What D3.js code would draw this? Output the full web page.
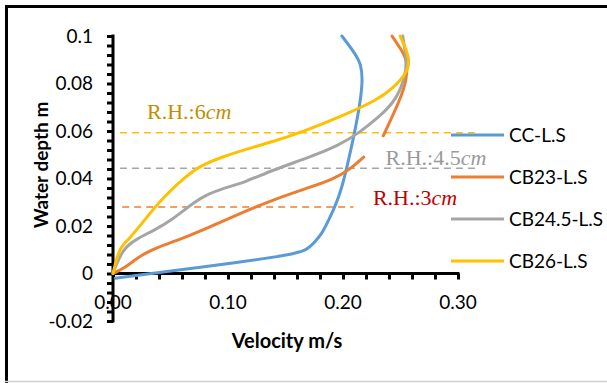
<!DOCTYPE html>
<html><head><meta charset="utf-8">
<script src="https://cdn.jsdelivr.net/npm/d3@7"></script>
<style>html,body{margin:0;padding:0;background:#fff;}svg{display:block;}</style>
</head><body>
<svg id="c" width="607" height="383"></svg>
<script>
// ---- data ----
const seriesNames = ["CC-L.S", "CB23-L.S", "CB24.5-L.S", "CB26-L.S"];
const ccVelocity = [0.002,0.05,0.110,0.154,0.169,0.175,0.182,0.186,0.193,0.199,0.204,0.210,0.215,0.217,0.216,0.210,0.199];
const ccDepth    = [-0.002,0.001,0.0048,0.0078,0.0099,0.013,0.017,0.021,0.028,0.036,0.046,0.059,0.072,0.081,0.088,0.093,0.100];
const cb23Velocity = [0,0.0104,0.022,0.0365,0.065,0.091,0.115,0.139,0.169,0.191,0.206,0.218,null,0.235,0.2496,0.2557,0.2557,0.251,0.2426];
const cb23Depth    = [0,0.0023,0.007,0.0107,0.0155,0.021,0.0262,0.031,0.036,0.0395,0.0438,0.049,null,0.058,0.073,0.082,0.090,0.094,0.100];
const cb245Velocity = [0,0.003,0.006,0.0104,0.022,0.0365,0.051,0.065,0.080,0.097,0.115,0.139,0.169,0.197,0.215,0.230,0.247,0.2557,0.2545,0.252];
const cb245Depth    = [0,0.004,0.007,0.011,0.015,0.0183,0.0225,0.028,0.033,0.036,0.0385,0.0436,0.0486,0.054,0.0596,0.0654,0.073,0.0857,0.092,0.100];
const cb26Velocity = [0,0.002,0.006,0.013,0.025,0.0365,0.048,0.0626,0.077,0.095,0.113,0.139,0.169,0.197,0.2296,0.2435,0.2557,0.258,0.254,0.2496];
const cb26Depth    = [0,0.004,0.011,0.014,0.021,0.028,0.034,0.0406,0.0457,0.049,0.052,0.0554,0.0604,0.0659,0.073,0.078,0.0844,0.090,0.0954,0.100];
const refLabels = ["R.H.:6", "R.H.:4.5", "R.H.:3"];
const refDepths = [0.0593, 0.0443, 0.028];
const refStartV = [0.006, 0.006, 0.008];
const refEndV   = [0.317, 0.317, 0.209];
const xTickLabels = ["0.00","0.10","0.20","0.30"];
const yTickLabels = ["-0.02","0","0.02","0.04","0.06","0.08","0.1"];

// ---- styles ----
const colors = ["#5B9BD5","#ED7D31","#A5A5A5","#FFC000"];
const refTextColors = ["#BF9000","#9A9A9A","#C00000"];
const refLineColors = ["#FFC000","#A5A5A5","#ED7D31"];
const font = "Lato, 'Noto Sans', sans-serif";

const svg = d3.select("#c");
// frame
svg.append("line").attr("x1",5).attr("x2",607).attr("y1",6.5).attr("y2",6.5).attr("stroke","#000").attr("stroke-width",3);
svg.append("line").attr("x1",6.5).attr("x2",6.5).attr("y1",5).attr("y2",383).attr("stroke","#000").attr("stroke-width",3);
svg.append("line").attr("x1",5).attr("x2",607).attr("y1",381.5).attr("y2",381.5).attr("stroke","#cfcfcf").attr("stroke-width",1.5);

const x = d3.scaleLinear().domain([0,0.30]).range([113,458]);
const y = d3.scaleLinear().domain([-0.02,0.1]).range([321,36]);

// y axis
const yAxis = d3.axisLeft(y).tickValues(d3.range(0,31).map(i=>-0.02+i*0.004)).tickSize(6).tickFormat("");
const gy = svg.append("g").attr("transform",`translate(${x(0)},0)`).call(yAxis);
gy.select(".domain").attr("stroke","#000").attr("stroke-width",3).attr("d",`M0,${y(-0.02)+1.5}V${y(0.1)-1.5}`);
gy.selectAll(".tick line").attr("stroke","#000").attr("stroke-width",3);
svg.selectAll(".ylab").data(yTickLabels).enter().append("text")
  .attr("x",93).attr("y",d=>y(+d)).attr("dy","0.35em").attr("text-anchor","end")
  .attr("font-family",font).attr("font-size",19).attr("fill","#000").text(d=>d);

// x axis
const xAxis = d3.axisBottom(x).tickValues(d3.range(0,16).map(i=>i*0.02)).tickSize(6).tickFormat("");
const gx = svg.append("g").attr("transform",`translate(0,${y(0)})`).call(xAxis);
gx.select(".domain").attr("stroke","#000").attr("stroke-width",3).attr("d",`M${x(0)},0H${x(0.30)+1.5}`);
gx.selectAll(".tick line").attr("stroke","#000").attr("stroke-width",3);
svg.selectAll(".xlab").data(xTickLabels).enter().append("text")
  .attr("x",d=>x(+d)).attr("y",302).attr("dy","0.35em").attr("text-anchor","middle")
  .attr("font-family",font).attr("font-size",19).attr("fill","#000").text(d=>d);

// axis titles
svg.append("text").attr("transform","translate(41,165) rotate(-90)").attr("text-anchor","middle").attr("dy","0.35em")
  .attr("font-family",font).attr("font-weight","bold").attr("font-size",19).text("Water depth m");
svg.append("text").attr("x",287).attr("y",341).attr("dy","0.35em").attr("text-anchor","middle")
  .attr("font-family",font).attr("font-weight","bold").attr("font-size",20).text("Velocity m/s");

// reference lines
refDepths.forEach((d,i)=>{
  svg.append("line").attr("x1",x(refStartV[i])).attr("x2",x(refEndV[i])).attr("y1",y(d)).attr("y2",y(d))
    .attr("stroke",refLineColors[i]).attr("stroke-width",1.5).attr("stroke-dasharray","7,5");
});

// series
const series = [[ccVelocity,ccDepth],[cb23Velocity,cb23Depth],[cb245Velocity,cb245Depth],[cb26Velocity,cb26Depth]];
const line = d3.line().defined(p=>p[0]!==null && p[1]!==null).x(p=>x(p[0])).y(p=>y(p[1])).curve(d3.curveBasis);
series.forEach((s,i)=>{
  const pts = s[0].map((v,k)=>[v,s[1][k]]);
  svg.append("path").attr("d",line(pts)).attr("fill","none").attr("stroke",colors[i]).attr("stroke-width",3)
    .attr("stroke-linejoin","round").attr("stroke-linecap","round");
});

// reference labels
const refPos = [[0.0296,0.065],[0.237,0.0456],[0.226,0.0288]];
refLabels.forEach((t,i)=>{
  const tx = svg.append("text").attr("x",x(refPos[i][0])).attr("y",y(refPos[i][1]))
    .attr("font-family","'Liberation Serif', 'Times New Roman', serif").attr("font-size",22).attr("fill",refTextColors[i]);
  tx.append("tspan").text(t);
  tx.append("tspan").attr("font-style","italic").text("cm");
});

// legend
const legY = [135,177,219,261];
seriesNames.forEach((n,i)=>{
  svg.append("line").attr("x1",451).attr("x2",504).attr("y1",legY[i]).attr("y2",legY[i]).attr("stroke",colors[i]).attr("stroke-width",3);
  svg.append("text").attr("x",509).attr("y",legY[i]).attr("dy","0.35em").attr("font-family",font).attr("font-size",19).attr("fill","#000").text(n);
});
</script>
</body></html>
